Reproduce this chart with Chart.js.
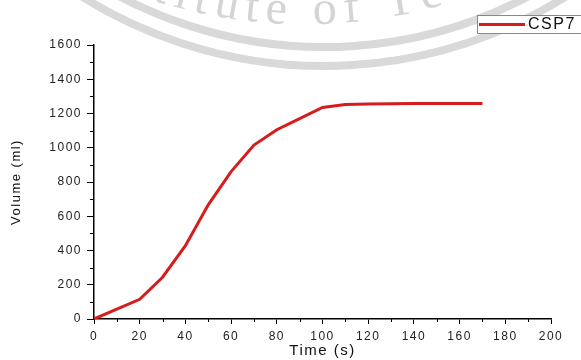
<!DOCTYPE html>
<html>
<head>
<meta charset="utf-8">
<script src="https://cdn.jsdelivr.net/npm/chart.js@4"></script>
<style>
  html, body { margin: 0; padding: 0; background: #fff; }
  #wrap { width: 581px; height: 360px; position: relative; }
</style>
</head>
<body>
<div id="wrap"><canvas id="c"></canvas></div>
<script>
// Volume over time, series CSP7
const times = [0, 10, 20, 30, 40, 50, 60, 70, 80, 90, 100, 110, 120, 130, 140, 150, 160, 170];
const volume = [0, 57, 115, 244, 428, 667, 861, 1016, 1105, 1170, 1235, 1252, 1256, 1257, 1258, 1258, 1258, 1258];
const seriesLabel = "CSP7";
const xTicks = [0, 20, 40, 60, 80, 100, 120, 140, 160, 180, 200];
const yTicks = [0, 200, 400, 600, 800, 1000, 1200, 1400, 1600];

const RED = "#d61c1c";
const FONT = "'Liberation Sans', Arial, sans-serif";

// faint watermark behind the chart + wider text like the original
const watermark = {
  id: "watermark",
  beforeDraw(chart) {
    const ctx = chart.ctx;
    ctx.letterSpacing = "1.5px";
    ctx.save();
    ctx.strokeStyle = "#d9d9d9";
    ctx.lineWidth = 8;
    for (const r of [437, 456]) {
      ctx.beginPath();
      ctx.arc(324, -390, r, 0.1 * Math.PI, 0.9 * Math.PI);
      ctx.stroke();
    }
    ctx.fillStyle = "#d4d4d4";
    ctx.font = "48px 'Liberation Serif', serif";
    ctx.letterSpacing = "0px";
    ctx.textAlign = "left";
    const txt = "Institute of Technology";
    const cx = 305, cy = -476, r = 500, gap = 7.5;
    const startIdx = 6; // the "u" sits at x ~ 213
    const angU = Math.PI / 2 + Math.asin((cx - 213) / r);
    const adv = [...txt].map((ch) => ctx.measureText(ch).width + gap);
    let cum = 0;
    const cums = adv.map((a) => { const c = cum; cum += a; return c; });
    [...txt].forEach((ch, i) => {
      const a = angU - (cums[i] - cums[startIdx]) / r;
      ctx.save();
      ctx.translate(cx + r * Math.cos(a), cy + r * Math.sin(a));
      ctx.rotate(a - Math.PI / 2);
      ctx.fillText(ch, 0, 0);
      ctx.restore();
    });
    ctx.restore();
  },
};

// minor ticks + legend box
const extras = {
  id: "extras",
  afterDraw(chart) {
    const ctx = chart.ctx;
    const xs = chart.scales.x, ys = chart.scales.y;
    ctx.save();
    ctx.strokeStyle = "#000";
    ctx.lineWidth = 1;
    for (let i = 0; i < xTicks.length - 1; i++) {
      const px = Math.round(xs.getPixelForValue((xTicks[i] + xTicks[i + 1]) / 2)) + 0.5;
      ctx.beginPath();
      ctx.moveTo(px, xs.top);
      ctx.lineTo(px, xs.top + 3);
      ctx.stroke();
    }
    for (let i = 0; i < yTicks.length - 1; i++) {
      const py = Math.round(ys.getPixelForValue((yTicks[i] + yTicks[i + 1]) / 2)) + 0.5;
      ctx.beginPath();
      ctx.moveTo(ys.right, py);
      ctx.lineTo(ys.right - 4, py);
      ctx.stroke();
    }
    // legend
    ctx.fillStyle = "#fff";
    ctx.fillRect(477.5, 15.5, 104, 18);
    ctx.strokeStyle = "#888";
    ctx.strokeRect(477.5, 15.5, 104, 18);
    ctx.strokeStyle = RED;
    ctx.lineWidth = 3;
    ctx.beginPath();
    ctx.moveTo(479, 24.5);
    ctx.lineTo(525, 24.5);
    ctx.stroke();
    ctx.fillStyle = "#111";
    ctx.font = "16px " + FONT;
    ctx.textBaseline = "middle";
    ctx.fillText(seriesLabel, 528, 25);
    ctx.restore();
  },
};

new Chart(document.getElementById("c"), {
  type: "line",
  data: {
    datasets: [
      {
        label: seriesLabel,
        data: times.map((t, i) => ({ x: t, y: volume[i] })),
        borderColor: RED,
        borderWidth: 3,
        pointRadius: 0,
        tension: 0,
        fill: false,
      },
    ],
  },
  options: {
    responsive: true,
    maintainAspectRatio: false,
    animation: false,
    layout: { padding: { left: 0, top: 45, right: 30, bottom: 0 } },
    plugins: { legend: { display: false }, tooltip: { enabled: false } },
    scales: {
      x: {
        type: "linear",
        min: 0,
        max: 200,
        afterBuildTicks: (s) => { s.ticks = xTicks.map((v) => ({ value: v })); },
        afterFit: (s) => { s.height = 41; },
        ticks: { color: "#222", font: { family: FONT, size: 12 }, padding: 5, maxRotation: 0 },
        grid: { drawOnChartArea: false, tickLength: 5, color: "#000" },
        border: { color: "#000", width: 1.5 },
        title: {
          display: true,
          text: "Time (s)",
          color: "#111",
          font: { family: FONT, size: 15 },
          padding: { top: 0, bottom: 0 },
        },
      },
      y: {
        min: 0,
        max: 1600,
        afterBuildTicks: (s) => { s.ticks = yTicks.map((v) => ({ value: v })); },
        afterFit: (s) => { s.width = 94; },
        ticks: { color: "#222", font: { family: FONT, size: 12 }, padding: 5, callback: (v) => String(v) },
        grid: { drawOnChartArea: false, tickLength: 7, color: "#000" },
        border: { color: "#000", width: 1.5 },
        title: {
          display: true,
          text: "Volume (ml)",
          color: "#111",
          font: { family: FONT, size: 13 },
          padding: { top: 9, bottom: 0 },
        },
      },
    },
  },
  plugins: [watermark, extras],
});
</script>
</body>
</html>
